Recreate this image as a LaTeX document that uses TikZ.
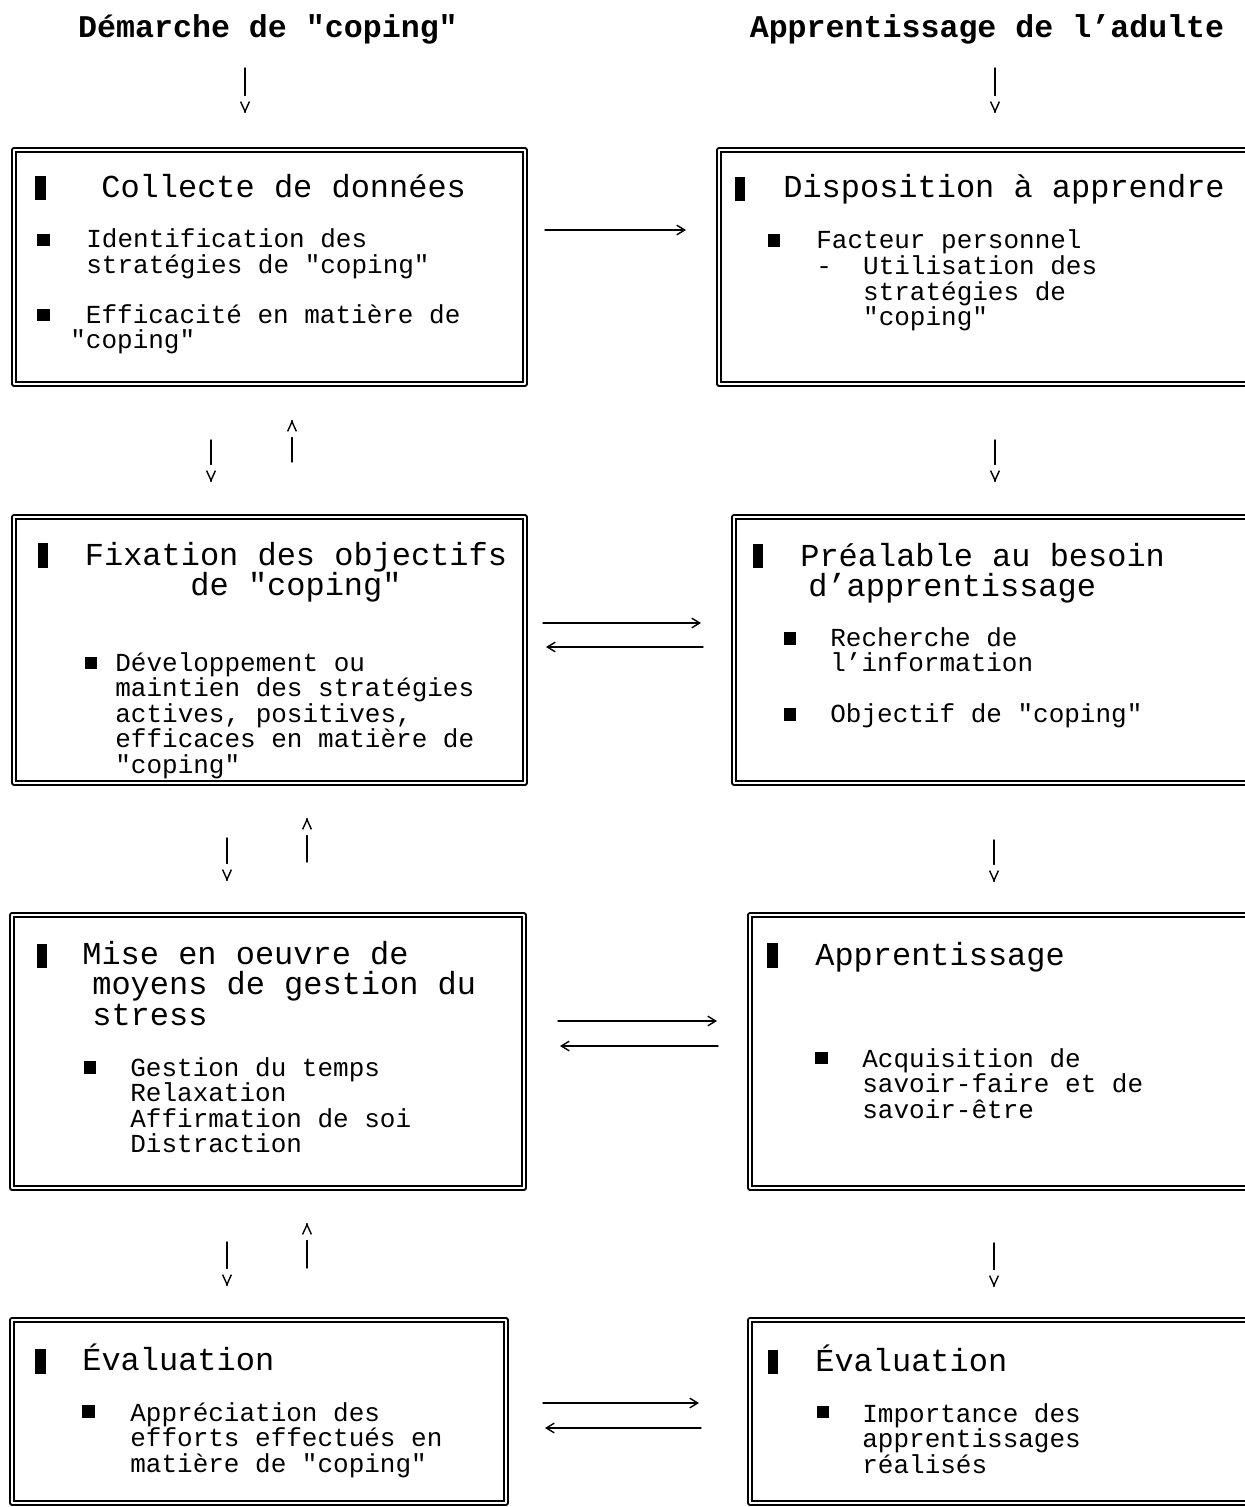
\documentclass[tikz,border=0pt]{standalone}
\usepackage{fontspec}
\setmonofont{Liberation Mono}
\usetikzlibrary{arrows.meta,fit,calc}
\newcommand\lft[1]{\parbox[t]{12cm}{\lineskiplimit=-99pt\raggedright#1}}
\newcommand\ctr[1]{\parbox[t]{12cm}{\lineskiplimit=-99pt\centering#1}}
\begin{document}
\begin{tikzpicture}[x=0.02cm,y=-0.02cm,line cap=round,line join=round,
    box/.style={draw,double,double distance=1.5pt,line width=0.8pt,inner sep=0pt},
    tmark/.style={fill,inner sep=0pt,minimum width=5.8pt,minimum height=13.8pt},
    imark/.style={fill,inner sep=0pt,minimum size=7.2pt},
    head/.style={anchor=base,inner sep=0pt,font=\ttfamily\bfseries\fontsize{18}{18}\selectfont},
    ttl/.style={anchor=base west,inner sep=0pt,font=\ttfamily\fontsize{18.2}{17.4}\selectfont},
    itm/.style={anchor=base west,inner sep=0pt,font=\ttfamily\fontsize{14.8}{14.6}\selectfont},
    vline/.style={line width=0.8pt,shorten >=10pt},
    vtip/.style={-{Straight Barb[length=5.5pt,width=5pt]},line width=0.8pt},
    hlink/.style={->,line width=0.8pt,>={Straight Barb[length=4.5pt,width=5.5pt]}}]
    \useasboundingbox (0,0) rectangle (1244,1507);
    % Column headings.
    \node[head] (coping) at (268,38) {Démarche de "coping"};
    \node[head] (adulte) at (987,38) {Apprentissage de l’adulte};
    % Double-ruled frames of the two columns.
    \node[box,fit={(14,150) (525,384)}] (collecte) {};
    \node[box,fit={(14,517) (525,783)}] (fixation) {};
    \node[box,fit={(12,915) (524,1188)}] (moyens) {};
    \node[box,fit={(12,1320) (506,1503)}] (evalc) {};
    \node[box,fit={(719,150) (1262,384)}] (disposition) {};
    \node[box,fit={(734,517) (1262,783)}] (prealable) {};
    \node[box,fit={(750,915) (1262,1188)}] (apprentissage) {};
    \node[box,fit={(750,1320) (1262,1503)}] (evala) {};
    % Collecte de donnees.
    \node[tmark] (collecte-m) at (40.5,188) {};
    \node[ttl] (collecte-t) at (101,197) {\lft{Collecte de données}};
    \node[imark] (collecte-m1) at (43.5,240) {};
    \node[itm] (collecte-i1) at (86,248) {\lft{Identification des\\stratégies de "coping"}};
    \node[imark] (collecte-m2) at (43.5,315) {};
    \node[itm] (collecte-i2) at (70,323) {\lft{~Efficacité en matière de\\"coping"}};
    % Disposition a apprendre.
    \node[tmark] (disposition-m) at (740,189) {};
    \node[ttl] (disposition-t) at (783,198) {\lft{Disposition à apprendre}};
    \node[imark] (disposition-m1) at (774,240.5) {};
    \node[itm] (disposition-i1) at (816,249)
      {\lft{Facteur personnel\\-~~Utilisation des\\~~~stratégies de\\~~~"coping"}};
    % Fixation des objectifs.
    \node[tmark] (fixation-m) at (43,555.5) {};
    \node[ttl,anchor=base] (fixation-t) at (296,565) {\ctr{Fixation des objectifs\\de "coping"}};
    \node[imark] (fixation-m1) at (91,663) {};
    \node[itm] (fixation-i1) at (115,671) {\lft{Développement ou\\maintien des stratégies\\actives, positives,\\efficaces en matière de\\"coping"}};
    % Prealable au besoin.
    \node[tmark] (prealable-m) at (758,556) {};
    \node[ttl] (prealable-t) at (800,566) {\lft{Préalable au besoin\\\hspace*{4.5pt}d’apprentissage}};
    \node[imark] (prealable-m1) at (790,638.5) {};
    \node[itm] (prealable-i1) at (830,646) {\lft{Recherche de\\l’information}};
    \node[imark] (prealable-m2) at (790,714.5) {};
    \node[itm] (prealable-i2) at (830,722) {\lft{Objectif de "coping"}};
    % Moyens de gestion du stress.
    \node[tmark] (moyens-m) at (42,956) {};
    \node[ttl] (moyens-t) at (82,964) {\lft{Mise en oeuvre de\\\hspace*{5.7pt}moyens de gestion du\\\hspace*{5.7pt}stress}};
    \node[imark] (moyens-m1) at (90,1067.5) {};
    \node[itm] (moyens-i1) at (130,1076) {\lft{Gestion du temps\\Relaxation\\Affirmation de soi\\Distraction}};
    % Apprentissage.
    \node[tmark] (apprentissage-m) at (772.5,955.5) {};
    \node[ttl] (apprentissage-t) at (815,965) {\lft{Apprentissage}};
    \node[imark] (apprentissage-m1) at (821.5,1058) {};
    \node[itm] (apprentissage-i1) at (862,1067) {\lft{Acquisition de\\savoir-faire et de\\savoir-être}};
    % Evaluation, both columns.
    \node[tmark] (evalc-m) at (40.5,1361.5) {};
    \node[ttl] (evalc-t) at (82,1370) {\lft{Évaluation}};
    \node[imark] (evalc-m1) at (88.5,1411.5) {};
    \node[itm] (evalc-i1) at (130,1421) {\lft{Appréciation des\\efforts effectués en\\matière de "coping"}};
    \node[tmark] (evala-m) at (773,1362) {};
    \node[ttl] (evala-t) at (815,1371) {\lft{Évaluation}};
    \node[imark] (evala-m1) at (823,1412) {};
    \node[itm] (evala-i1) at (862,1422) {\lft{Importance des\\apprentissages\\réalisés}};
    % Vertical links: a stem, then a detached tip.
    \foreach \x/\ya/\yb/\n in {245/68/113/dn1,995/68/113/dn2,211/440/482/dn3,995/440/482/dn4,
        227/838/881/dn5,994/840/882/dn6,227/1242/1286/dn7,994/1243/1287/dn8,
        292/462/420/up1,307/862/818/up2,307/1268/1223/up3} {
      \coordinate (\n a) at (\x,\ya);
      \coordinate (\n b) at (\x,\yb);
      \draw[vline] (\n a) -- (\n b);
      \draw[vtip] ($(\n b)!0.4pt!(\n a)$) -- (\n b);
    }
    % Links between the columns.
    \foreach \xa/\xb/\y [count=\i] in {545/686/230,543/701/623,558/717/1021,543/699/1403,
        703/546/647,718/560/1046,701/545/1428} {
      \coordinate (hz\i a) at (\xa,\y);
      \coordinate (hz\i b) at (\xb,\y);
      \draw[hlink] (hz\i a) -- (hz\i b);
    }
  \end{tikzpicture}
\end{document}
